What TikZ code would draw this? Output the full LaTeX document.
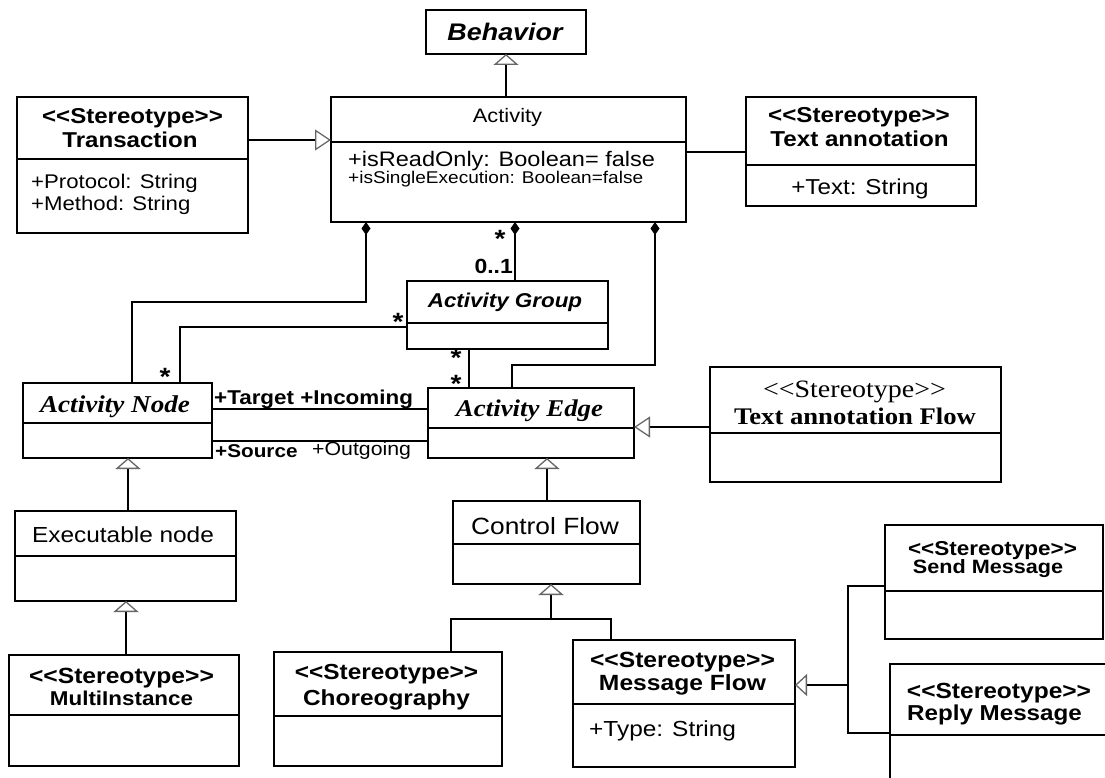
\documentclass[tikz,border=0pt]{standalone}
\usepackage{fontspec}
\setmainfont{Liberation Sans}[FakeStretch=1.12]
\newfontfamily\tmsfont{Liberation Serif}[FakeStretch=1.12]
\usetikzlibrary{arrows.meta}
\newcommand\fsz[1]{\fontsize{#1}{#1}\selectfont}
% class box: name, x1, y1, x2, y2 (y grows downward)
\newcommand\umlbox[5]{%
  \pgfmathsetmacro\ubw{#4-#2}\pgfmathsetmacro\ubh{#5-#3}%
  \node[cls, minimum width=\ubw pt, minimum height=\ubh pt, anchor=north west] (#1) at (#2,#3) {};}
% compartment separator inside a class box
\newcommand\usep[2]{\draw[sepline] (#1.west |- 0,#2) -- (#1.east |- 0,#2);}
\tikzset{
  cls/.style={draw, rectangle, line width=1.2pt, inner sep=0pt, outer sep=0pt},
  sepline/.style={line width=1.1pt},
  lbl/.style={inner sep=0pt, anchor=base},
  lbla/.style={inner sep=0pt, anchor=base west},
  mult/.style={inner sep=0pt, anchor=center, font=\fsz{25}\bfseries},
  assoc/.style={line width=1.1pt},
  gen/.style={line width=1.1pt, -{Triangle[open, length=11pt, width=25pt, line width=1.3pt, color=black!60]}},
  genh/.style={line width=1.1pt, -{Triangle[open, length=16pt, width=21pt, line width=1.3pt, color=black!60]}},
  genm/.style={line width=1.1pt, -{Triangle[open, length=12pt, width=22pt, line width=1.3pt, color=black!60]}},
  comp/.style={line width=1.1pt, {Diamond[length=13pt, width=9pt]}-},
}
\begin{document}
\begin{tikzpicture}[x=1pt, y=-1pt]
\useasboundingbox (0,0) rectangle (1105,778);
\fill[white] (0,0) rectangle (1105,778);
\clip (0,0) rectangle (1105,778);

% ---- classes ----
\umlbox{behavior}{426}{10}{586}{54}
\node[lbl, font=\fsz{24}\bfseries\itshape] at (505,41) {Behavior};

\umlbox{activity}{331}{97}{686}{222}
\usep{activity}{142}
\node[lbl, font=\fsz{19.5}] at (507.5,123) {Activity};
\node[lbla, font=\fsz{21}] at (348,167) {+isReadOnly: Boolean= false};
\node[lbla, font=\fsz{17}] at (348,184) {+isSingleExecution: Boolean=false};

\umlbox{trans}{17}{97}{248}{233}
\usep{trans}{159}
\node[lbl, font=\fsz{21.5}\bfseries] at (132.5,124) {<{}<Stereotype>{}>};
\node[lbl, font=\fsz{21.5}\bfseries] at (130,148) {Transaction};
\node[lbla, font=\fsz{19.8}] at (31,189) {+Protocol: String};
\node[lbla, font=\fsz{19.8}] at (31,211) {+Method: String};

\umlbox{textann}{746}{97}{976}{206}
\usep{textann}{165}
\node[lbl, font=\fsz{21.6}\bfseries] at (859,123) {<{}<Stereotype>{}>};
\node[lbl, font=\fsz{21.6}\bfseries] at (859.5,147) {Text annotation};
\node[lbl, font=\fsz{21.6}] at (860,194) {+Text: String};

\umlbox{group}{407}{281}{608}{349}
\usep{group}{323}
\node[lbl, font=\fsz{20}\bfseries\itshape] at (505,307) {Activity Group};

\umlbox{anode}{23}{383}{212}{458}
\usep{anode}{423}
\node[lbl, font=\tmsfont\fsz{24.2}\bfseries\itshape] at (115,412) {Activity Node};

\umlbox{aedge}{428}{388}{634}{458}
\usep{aedge}{428}
\node[lbl, font=\tmsfont\fsz{24}\bfseries\itshape] at (529.5,416) {Activity Edge};

\umlbox{taflow}{710}{367}{1001}{482}
\usep{taflow}{433}
\node[lbl, font=\tmsfont\fsz{25}] at (854.5,397) {<{}<Stereotype>{}>};
\node[lbl, font=\tmsfont\fsz{23.8}\bfseries] at (855,424) {Text annotation Flow};

\umlbox{exec}{15}{511}{236}{601}
\usep{exec}{556}
\node[lbl, font=\fsz{21.8}] at (123,542) {Executable node};

\umlbox{cflow}{453}{501}{640}{584}
\usep{cflow}{544}
\node[lbl, font=\fsz{23.5}] at (545,534) {Control Flow};

\umlbox{multi}{9}{655}{239}{766}
\usep{multi}{715}
\node[lbl, font=\fsz{22}\bfseries] at (121.5,683) {<{}<Stereotype>{}>};
\node[lbl, font=\fsz{20}\bfseries] at (121.5,705) {MultiInstance};

\umlbox{choreo}{274}{652}{502}{766}
\usep{choreo}{716}
\node[lbl, font=\fsz{21.8}\bfseries] at (386.5,679) {<{}<Stereotype>{}>};
\node[lbl, font=\fsz{21.8}\bfseries] at (386.5,705) {Choreography};

\umlbox{mflow}{573}{640}{795}{767}
\usep{mflow}{704}
\node[lbl, font=\fsz{22}\bfseries] at (682.5,667) {<{}<Stereotype>{}>};
\node[lbl, font=\fsz{22}\bfseries] at (682.5,690) {Message Flow};
\node[lbla, font=\fsz{21.8}] at (589,736) {+Type: String};

\umlbox{send}{885}{525}{1103}{639}
\usep{send}{591}
\node[lbl, font=\fsz{20.1}\bfseries] at (992.5,555) {<{}<Stereotype>{}>};
\node[lbl, font=\fsz{19.3}\bfseries] at (988,573) {Send Message};

\umlbox{reply}{890}{664}{1108}{800}
\usep{reply}{735}
\node[lbl, font=\fsz{21.9}\bfseries] at (999,698) {<{}<Stereotype>{}>};
\node[lbl, font=\fsz{21.6}\bfseries] at (994.5,720) {Reply Message};

% ---- relations ----
\draw[gen] (activity.north -| behavior.south) -- (behavior.south);
\draw[genh] (trans.east |- 0,140) -- (activity.west |- 0,140);
\draw[assoc] (activity.east |- 0,152) -- (textann.west |- 0,152);

\draw[comp] (activity.south -| 366,0) |- (132,302) -- (anode.north -| 132,0);
\draw[comp] (activity.south -| 515,0) -- (group.north -| 515,0);
\draw[comp] (activity.south -| 655,0) |- (512,365) -- (aedge.north -| 512,0);

\draw[assoc] (group.west |- 0,327) -| (anode.north -| 180,0);
\draw[assoc] (group.south -| 469,0) -- (aedge.north -| 469,0);

\draw[assoc] (anode.east |- 0,409) -- (aedge.west |- 0,409);
\draw[assoc] (anode.east |- 0,441) -- (aedge.west |- 0,441);

\draw[genh] (taflow.west |- 0,427) -- (aedge.east |- 0,427);
\draw[gen] (cflow.north -| 547,0) -- (aedge.south -| 547,0);
\draw[gen] (exec.north -| 128,0) -- (anode.south -| 128,0);
\draw[gen] (multi.north -| 126,0) -- (exec.south -| 126,0);

\coordinate (j1) at (551,619);
\draw[assoc] (choreo.north -| 451,0) |- (j1);
\draw[assoc] (mflow.north -| 611,0) |- (j1);
\draw[gen] (j1) -- (cflow.south -| j1);

\coordinate (j2) at (848,685);
\draw[assoc] (send.west |- 0,586) -| (j2) |- (reply.west |- 0,733);
\draw[genm] (j2) -- (mflow.east |- j2);

% ---- multiplicities and roles ----
\node[mult] at (500,239) {*};
\node[inner sep=0pt, anchor=base east, font=\fsz{20.5}\bfseries] at (513,273) {0..1};
\node[mult] at (398,322) {*};
\node[mult] at (165,377) {*};
\node[mult] at (456,358) {*};
\node[mult] at (456,384) {*};
\node[lbla, font=\fsz{20}\bfseries] at (214,404) {+Target +Incoming};
\node[lbla, font=\fsz{18.5}\bfseries] at (215,457) {+Source};
\node[lbla, font=\fsz{19}] at (312,455) {+Outgoing};
\end{tikzpicture}
\end{document}
